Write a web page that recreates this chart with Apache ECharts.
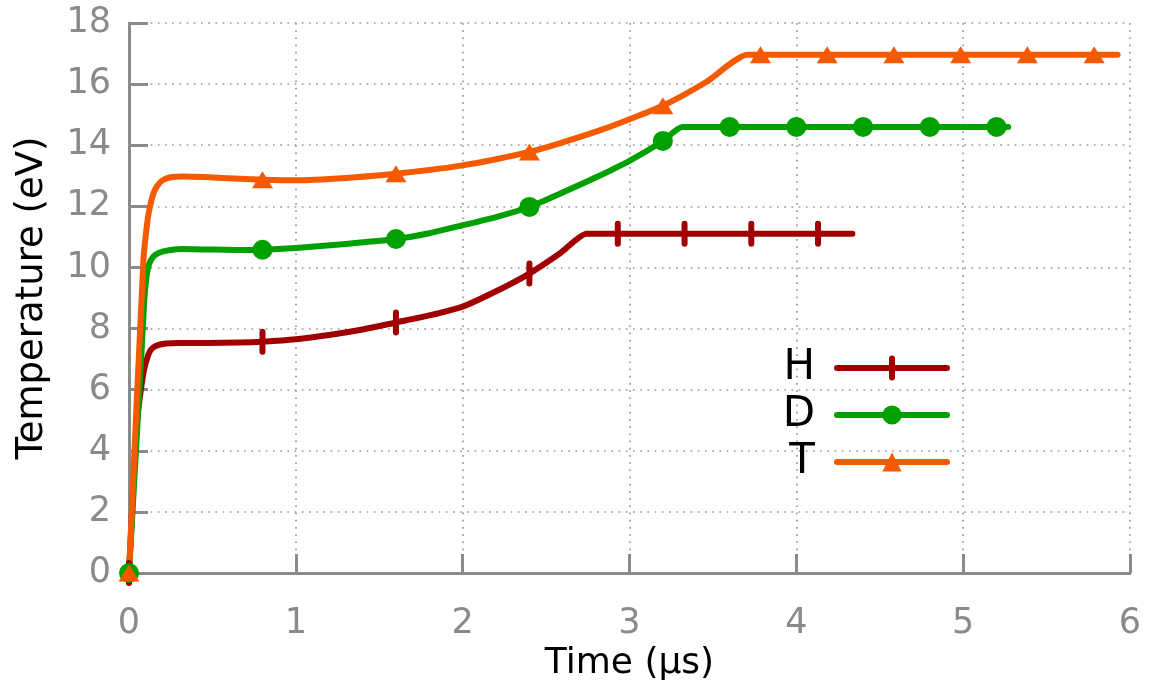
<!DOCTYPE html>
<html>
<head>
<meta charset="utf-8">
<script src="https://cdn.jsdelivr.net/npm/echarts@6/dist/echarts.min.js"></script>
<style>
html,body{margin:0;padding:0;background:#fff;}
#chart{width:1153px;height:698px;}
</style>
</head>
<body>
<div id="chart"></div>
<script>
// ---- data ----
var xTicks = [0, 1, 2, 3, 4, 5, 6];
var yTicks = [0, 2, 4, 6, 8, 10, 12, 14, 16, 18];

var hTime = [0, 0.046, 0.07, 0.09, 0.11, 0.13, 0.16, 0.22, 0.3, 0.45, 0.666, 0.8, 1.0, 1.2, 1.4, 1.6, 1.8, 2.0, 2.2, 2.4, 2.586, 2.742, 2.93, 3.33, 3.73, 4.13, 4.336];
var hTemp = [0, 4.9, 5.95, 6.65, 7.05, 7.3, 7.43, 7.51, 7.53, 7.53, 7.54, 7.57, 7.65, 7.79, 7.97, 8.20, 8.43, 8.72, 9.22, 9.80, 10.47, 11.10, 11.10, 11.10, 11.10, 11.10, 11.10];
var hMarks = [0, 0.8, 1.6, 2.4, 2.93, 3.33, 3.73, 4.13];

var dTime = [0, 0.075, 0.09, 0.105, 0.12, 0.145, 0.18, 0.24, 0.32, 0.45, 0.666, 0.8, 1.0, 1.3, 1.6, 1.8, 2.0, 2.2, 2.4, 2.586, 2.8, 3.0, 3.2, 3.316, 3.6, 4.0, 4.4, 4.8, 5.2, 5.27];
var dTemp = [0, 7.2, 8.8, 9.7, 10.1, 10.35, 10.48, 10.56, 10.6, 10.59, 10.57, 10.58, 10.64, 10.77, 10.93, 11.12, 11.38, 11.65, 11.98, 12.42, 12.95, 13.49, 14.14, 14.60, 14.60, 14.60, 14.60, 14.60, 14.60, 14.60];
var dMarks = [0, 0.8, 1.6, 2.4, 3.2, 3.6, 4.0, 4.4, 4.8, 5.2];

var tTime = [0, 0.086, 0.11, 0.126, 0.145, 0.166, 0.2, 0.25, 0.32, 0.45, 0.666, 0.8, 1.0, 1.3, 1.6, 1.8, 2.0, 2.2, 2.4, 2.586, 2.83, 3.0, 3.2, 3.46, 3.705, 3.785, 4.185, 4.585, 4.985, 5.385, 5.785, 5.926];
var tTemp = [0, 10.2, 11.5, 12.0, 12.4, 12.64, 12.85, 12.95, 12.98, 12.96, 12.9, 12.87, 12.85, 12.93, 13.07, 13.19, 13.34, 13.54, 13.78, 14.07, 14.5, 14.85, 15.29, 16.07, 16.96, 16.96, 16.96, 16.96, 16.96, 16.96, 16.96, 16.96];
var tMarks = [0, 0.8, 1.6, 2.4, 3.2, 3.785, 4.185, 4.585, 4.985, 5.385, 5.785];

var seriesNames = ['H', 'D', 'T'];
var colors = ['#a00000', '#00a000', '#f55a00'];

function build(times, temps, marks) {
  return times.map(function (t, i) {
    var item = { value: [t, temps[i]] };
    if (marks.indexOf(t) < 0) item.symbol = 'none';
    return item;
  });
}

var chart = echarts.init(document.getElementById('chart'), null, { renderer: 'canvas' });
var axisGray = '#8a8a8a';
var font = 'DejaVu Sans';

function lineSeries(idx, data, extra) {
  var s = {
    name: seriesNames[idx],
    type: 'line',
    data: data,
    color: colors[idx],
    clip: false,
    smooth: 0.2,
    lineStyle: { width: 6, color: colors[idx], cap: 'round', join: 'round' },
    itemStyle: { color: colors[idx] },
    emphasis: { disabled: true },
    animation: false
  };
  for (var k in extra) s[k] = extra[k];
  return s;
}

var option = {
  backgroundColor: '#ffffff',
  animation: false,
  grid: { left: 129, right: 23, top: 23, bottom: 125 },
  legend: {
    orient: 'vertical',
    right: 198,
    top: 340,
    align: 'right',
    itemWidth: 110,
    itemHeight: 24,
    itemGap: 1,
    selectedMode: false,
    textStyle: { fontFamily: font, fontSize: 42, lineHeight: 40, color: '#000', padding: [6, 17, 0, 0] },
    lineStyle: { width: 6, cap: 'round' },
    data: [
      { name: 'H', itemStyle: { borderColor: colors[0], borderWidth: 6, borderCap: 'round' } },
      { name: 'D' },
      { name: 'T' }
    ]
  },
  xAxis: {
    type: 'value',
    min: xTicks[0],
    max: xTicks[xTicks.length - 1],
    interval: 1,
    name: 'Time (µs)',
    nameLocation: 'middle',
    nameGap: 72,
    nameTextStyle: { fontFamily: font, fontSize: 36, color: '#000' },
    axisLine: { show: true, lineStyle: { color: axisGray, width: 3 } },
    axisTick: { show: true, inside: true, length: 19, lineStyle: { color: axisGray, width: 3 } },
    axisLabel: { fontFamily: font, fontSize: 35, color: axisGray, margin: 33 },
    splitLine: { show: true, showMinLine: false, lineStyle: { color: '#999999', width: 1.7, type: [1.7, 5.5] } }
  },
  yAxis: {
    type: 'value',
    min: yTicks[0],
    max: yTicks[yTicks.length - 1],
    interval: 2,
    name: 'Temperature (eV)',
    nameLocation: 'middle',
    nameGap: 78,
    nameTextStyle: { fontFamily: font, fontSize: 37, color: '#000' },
    axisLine: { show: true, lineStyle: { color: axisGray, width: 3 } },
    axisTick: { show: true, inside: true, length: 19, lineStyle: { color: axisGray, width: 3 } },
    axisLabel: { fontFamily: font, fontSize: 35, color: axisGray, margin: 18 },
    splitLine: { show: true, showMinLine: false, lineStyle: { color: '#999999', width: 1.7, type: [1.7, 5.5] } }
  },
  series: [
    lineSeries(0, build(hTime, hTemp, hMarks), {
      symbol: 'line', symbolSize: 20, symbolRotate: 90,
      itemStyle: { color: colors[0], borderColor: colors[0], borderWidth: 6, borderCap: 'round' }
    }),
    lineSeries(1, build(dTime, dTemp, dMarks), { symbol: 'circle', symbolSize: 20 }),
    lineSeries(2, build(tTime, tTemp, tMarks), { symbol: 'triangle', symbolSize: [21, 17] })
  ]
};
chart.setOption(option);
</script>
</body>
</html>
